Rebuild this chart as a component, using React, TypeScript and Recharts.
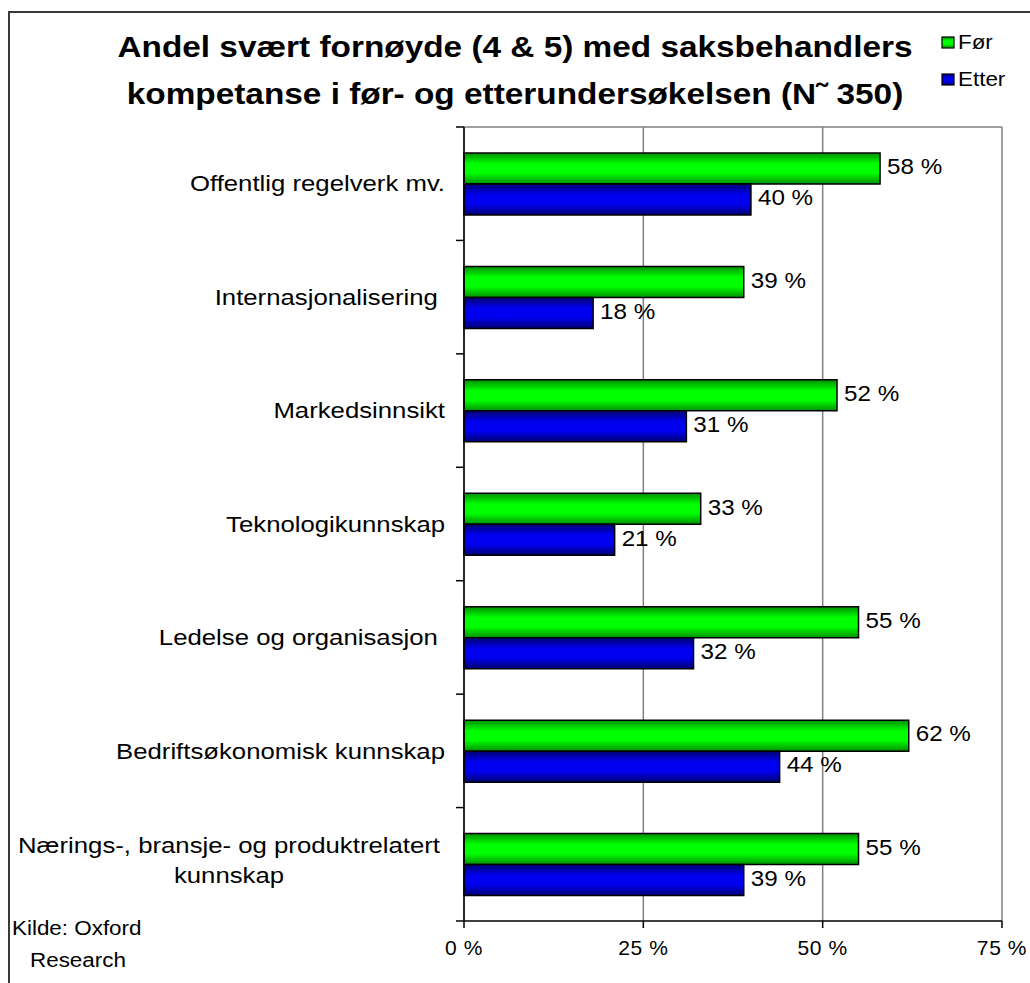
import React from "react"
import {
  BarChart,
  Bar,
  XAxis,
  YAxis,
  CartesianGrid,
  LabelList,
  Legend,
} from "recharts"

const categories = [
  "Offentlig regelverk mv.",
  "Internasjonalisering ",
  "Markedsinnsikt",
  "Teknologikunnskap",
  "Ledelse og organisasjon ",
  "Bedriftsøkonomisk kunnskap",
  "Nærings-, bransje- og produktrelatert\nkunnskap",
]
const forValues = [58, 39, 52, 33, 55, 62, 55]
const etterValues = [40, 18, 31, 21, 32, 44, 39]
const xTicks = [0, 25, 50, 75]
const seriesOrder = ["Før", "Etter"]

const FONT = "'Liberation Sans', Arial, sans-serif"
const PLOT_LEFT = 464

const data = categories.map((name, i) => ({
  name,
  for: forValues[i],
  etter: etterValues[i],
}))

// Excel-style wide glyphs: stretch text horizontally instead of spacing letters
const CategoryTick = (props: any) => {
  const { y, payload, index } = props
  const half = payload?.offset ?? 56.7
  const lines = String(payload.value).split("\n")
  const isLast = index === categories.length - 1
  return (
    <g>
      <line x1={PLOT_LEFT - 8} x2={PLOT_LEFT} y1={y - half} y2={y - half} stroke="#000" strokeWidth={1.5} />
      {isLast && (
        <line x1={PLOT_LEFT - 8} x2={PLOT_LEFT} y1={y + half} y2={y + half} stroke="#000" strokeWidth={1.5} />
      )}
      {lines.length > 1 ? (
        <g transform={`translate(229 ${y}) scale(1.17 1)`}>
          <text textAnchor="middle" fontSize={22} fill="#000" fontFamily={FONT} style={{ whiteSpace: "pre" }}>
            <tspan x={0} y={-19} dy="0.35em">{lines[0]}</tspan>
            <tspan x={0} y={11} dy="0.35em">{lines[1]}</tspan>
          </text>
        </g>
      ) : (
        <g transform={`translate(445 ${y}) scale(1.17 1)`}>
          <text
            x={0}
            y={0}
            dy="0.35em"
            textAnchor="end"
            fontSize={22}
            fill="#000"
            fontFamily={FONT}
            style={{ whiteSpace: "pre" }}
          >
            {lines[0]}
          </text>
        </g>
      )}
    </g>
  )
}

const ValueLabel = (props: any) => {
  const { x, y, width, height, value } = props
  const lx = x + width + 7
  const ly = y + height / 2 - 2
  return (
    <g transform={`translate(${lx} ${ly}) scale(1.1 1)`}>
      <text x={0} y={0} dy="0.35em" fontSize={22} fill="#000" fontFamily={FONT}>
        {`${value} %`}
      </text>
    </g>
  )
}

const LegendContent = ({ payload }: any) => {
  const items = [...(payload || [])].sort(
    (a: any, b: any) => seriesOrder.indexOf(a.value) - seriesOrder.indexOf(b.value)
  )
  return (
    <div style={{ fontFamily: FONT, fontSize: 20 }}>
      {items.map((p: any, i: number) => (
        <div key={i} style={{ display: "flex", alignItems: "center", height: 37 }}>
          <svg width={14} height={14} style={{ marginRight: 3 }}>
            <rect x={1} y={1} width={12} height={11} fill={p.payload.fill} stroke="#000" strokeWidth={1.2} />
          </svg>
          <span style={{ color: "#000", display: "inline-block", transform: "scaleX(1.12)", transformOrigin: "0 50%" }}>
            {p.value}
          </span>
        </div>
      ))}
    </div>
  )
}

export default function App() {
  return (
    <div
      style={{
        position: "absolute",
        left: 0,
        top: 0,
        width: 1030,
        height: 983,
        background: "#fff",
        overflow: "hidden",
        fontFamily: FONT,
      }}
    >
      <div
        style={{
          position: "absolute",
          left: 8,
          top: 11,
          width: 1100,
          height: 1100,
          borderLeft: "2px solid #3a3a3a",
          borderTop: "2px solid #3a3a3a",
        }}
      />
      <div
        style={{
          position: "absolute",
          left: 0,
          top: 24,
          width: 1030,
          textAlign: "center",
          fontSize: 29,
          fontWeight: "bold",
          lineHeight: "47px",
          color: "#000",
          transform: "scaleX(1.15)",
          transformOrigin: "515px 0",
        }}
      >
        Andel svært fornøyde (4 &amp; 5) med saksbehandlers
        <br />
        kompetanse i før- og etterundersøkelsen (N˜ 350)
      </div>
      <div
        style={{
          position: "absolute",
          left: 12,
          top: 917,
          fontSize: 20,
          lineHeight: "22px",
          transform: "scaleX(1.12)",
          transformOrigin: "0 0",
        }}
      >
        Kilde: Oxford
      </div>
      <div
        style={{
          position: "absolute",
          left: 30,
          top: 949,
          fontSize: 20,
          lineHeight: "22px",
          transform: "scaleX(1.12)",
          transformOrigin: "0 0",
        }}
      >
        Research
      </div>

      <div style={{ position: "absolute", left: 0, top: 0 }}>
        <BarChart
          width={1030}
          height={983}
          data={data}
          layout="vertical"
          margin={{ top: 127, right: 28, bottom: 32, left: 0 }}
          barGap={0}
          style={{ fontFamily: FONT }}
        >
          <defs>
            <linearGradient id="gGreen" x1="0" y1="0" x2="0" y2="1">
              <stop offset="0" stopColor="#009000" />
              <stop offset="0.35" stopColor="#00ff00" />
              <stop offset="0.65" stopColor="#00ff00" />
              <stop offset="1" stopColor="#009000" />
            </linearGradient>
            <linearGradient id="gBlue" x1="0" y1="0" x2="0" y2="1">
              <stop offset="0" stopColor="#000070" />
              <stop offset="0.35" stopColor="#0000f0" />
              <stop offset="0.65" stopColor="#0000f0" />
              <stop offset="1" stopColor="#000070" />
            </linearGradient>
          </defs>
          <CartesianGrid
            stroke="#808080"
            strokeWidth={1.5}
            horizontalCoordinatesGenerator={({ offset }: any) => [offset.top]}
          />
          <XAxis
            type="number"
            domain={[0, 75]}
            ticks={xTicks}
            tickFormatter={(v: number) => `${v} %`}
            tick={{ fill: "#000", fontSize: 21, fontFamily: FONT, style: { letterSpacing: 0.6 } }}
            axisLine={{ stroke: "#000", strokeWidth: 1.5 }}
            tickLine={{ stroke: "#000", strokeWidth: 1.5 }}
            tickSize={7}
            tickMargin={12}
            height={30}
            interval={0}
          />
          <YAxis
            type="category"
            dataKey="name"
            width={464}
            axisLine={{ stroke: "#000", strokeWidth: 1.5 }}
            tickLine={false}
            tick={<CategoryTick />}
            interval={0}
          />
          <Legend
            layout="vertical"
            align="center"
            verticalAlign="middle"
            content={<LegendContent />}
            wrapperStyle={{ position: "absolute", left: 941, top: 24, width: 90 }}
          />
          <Bar
            dataKey="for"
            name="Før"
            fill="url(#gGreen)"
            stroke="#000"
            strokeWidth={1.5}
            barSize={31}
            isAnimationActive={false}
          >
            <LabelList dataKey="for" content={<ValueLabel />} />
          </Bar>
          <Bar
            dataKey="etter"
            name="Etter"
            fill="url(#gBlue)"
            stroke="#000"
            strokeWidth={1.5}
            barSize={31}
            isAnimationActive={false}
          >
            <LabelList dataKey="etter" content={<ValueLabel />} />
          </Bar>
        </BarChart>
      </div>
    </div>
  )
}
